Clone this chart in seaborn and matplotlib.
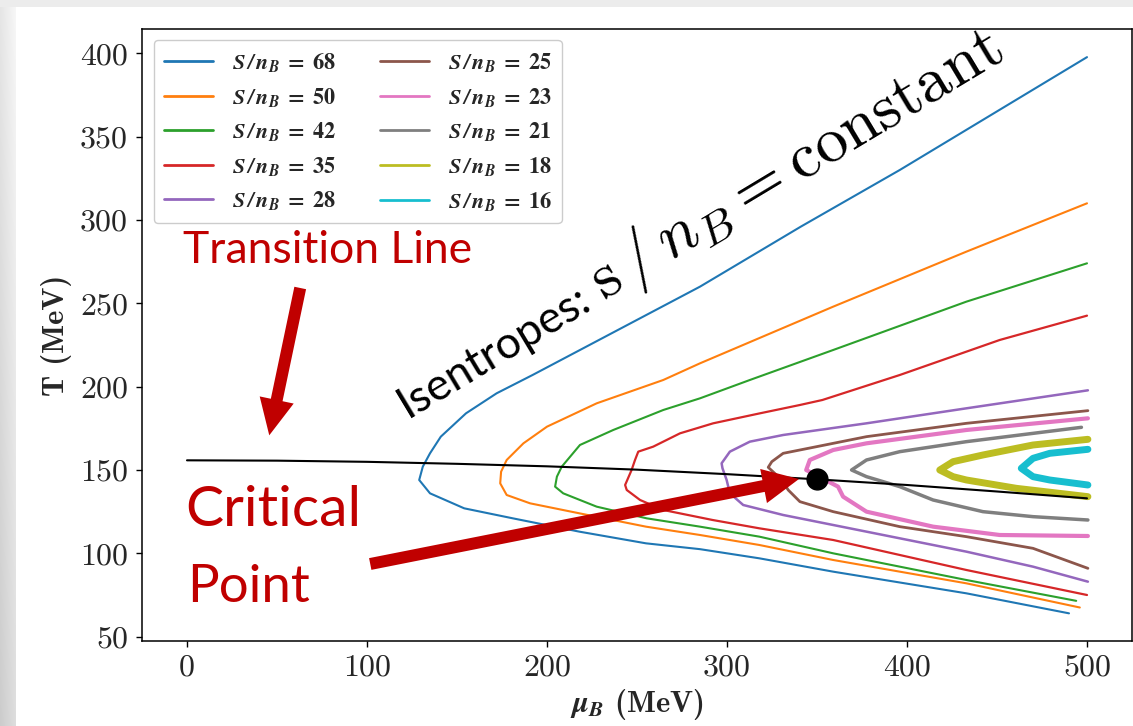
import matplotlib
matplotlib.use("Agg")
import numpy as np
import matplotlib.pyplot as plt
from matplotlib.font_manager import FontProperties
from matplotlib.lines import Line2D
import seaborn as sns

# ---------------------------------------------------------------------------
# Isentropes in the (mu_B, T) plane, each listed from the low-T end of the
# lower branch, through the turning point, to the end of the upper branch.
# ---------------------------------------------------------------------------
entropy_per_baryon = [68, 50, 42, 35, 28, 25, 23, 21, 18, 16]

mu_68 = [490, 433, 359, 318, 285, 255, 218, 181, 154, 135, 129, 131, 135, 141, 155, 172, 192, 285, 341, 396, 500]
T_68 = [64, 76, 89, 97, 102.5, 106, 113, 121, 127, 136, 144, 152, 160, 170, 184, 196, 207, 260, 296, 330, 397.7]

mu_50 = [496, 433, 359, 318, 285, 255, 218, 190.6, 177.6, 174, 174.5, 177.6, 186.9, 200, 227.6, 264.6, 285, 359, 433, 500]
T_50 = [67.5, 82, 96, 105, 111, 116, 124, 130, 135, 142, 149, 156, 166, 176, 190, 204, 214, 248, 281, 310]

mu_42 = [494, 433, 359, 318, 285, 255.4, 227.6, 209, 204.5, 205.5, 208.2, 218.3, 236.8, 264.6, 285, 312.7, 359, 433, 500]
T_42 = [71.5, 84, 100, 110, 116, 121, 128, 136, 140, 146, 152, 165, 174, 186, 193, 204, 222, 251, 274]

mu_35 = [500, 433, 359, 318, 292, 264.6, 251.7, 244.3, 243.4, 247, 248.9, 250.7, 259, 273.9, 292.3, 318.3, 340.5, 353, 396, 451.5, 500]
T_35 = [75, 90, 108, 115, 120, 126, 132, 138, 141, 150, 156, 161, 164, 172, 178, 184, 189, 192, 207, 228, 242.6]

mu_28 = [500.5, 470, 433, 377.5, 331.2, 309, 301.6, 299.8, 297.5, 297, 301.6, 312.7, 331.2, 377.5, 433, 500.5]
T_28 = [83, 92, 101, 113, 123, 129, 136, 144, 151, 154, 161, 167, 171, 178, 187, 197.8]

mu_25 = [500.5, 470, 433, 396, 359, 340.5, 334, 331, 327.5, 322.9, 324.9, 331.2, 349.8, 377.5, 433, 500.5]
T_25 = [91, 103, 110, 116, 125, 131, 138, 143, 147, 151.6, 155, 160, 164, 170, 178, 185.6]

mu_23 = [500.5, 451.5, 414.5, 377.5, 364.5, 361.7, 344, 346, 359, 377.5, 433, 500.5]
T_23 = [110.4, 111, 116, 125, 134, 140, 150, 156, 162, 166, 174, 181]

mu_21 = [500.5, 470, 442.2, 414.5, 396, 377.5, 369.2, 377.5, 396, 433, 496.9]
T_21 = [120, 122, 125, 132, 140, 146, 150, 156, 161, 167, 175.6]

mu_18 = [500.5, 460.8, 433, 425.6, 418.2, 425.6, 442.2, 470, 500.5]
T_18 = [134, 139, 144, 146, 150, 155, 159, 165, 168.4]

mu_16 = [500.5, 479.3, 470, 463.5, 470, 479.3, 500.5]
T_16 = [141, 144, 146, 151, 157, 160, 162.4]

# Chiral transition line and critical end point
mu_transition = [0, 50, 100, 150, 200, 250, 300, 350, 400, 450, 500]
T_transition = [155.8, 155.6, 154.9, 153.7, 152.2, 150.2, 147.5, 144.4, 141.0, 137.1, 133.0]
mu_critical = [350]
T_critical = [144.4]

x_ticks = [0, 100, 200, 300, 400, 500]
y_ticks = [50, 100, 150, 200, 250, 300, 350, 400]

isentropes = [(mu_68, T_68), (mu_50, T_50), (mu_42, T_42), (mu_35, T_35),
              (mu_28, T_28), (mu_25, T_25), (mu_23, T_23), (mu_21, T_21),
              (mu_18, T_18), (mu_16, T_16)]

# ---------------------------------------------------------------------------
sns.set_theme(style="ticks")
plt.rcParams["font.family"] = ["DejaVu Sans"]
plt.rcParams["axes.edgecolor"] = "black"
plt.rcParams["axes.linewidth"] = 1.1

W, H = 1133, 726
fig = plt.figure(figsize=(W / 100, H / 100), dpi=100, facecolor="white")

# slide backdrop: soft grey edge on the left and a thin band on top
bg = fig.add_axes([0, 0, 1, 1], zorder=-10)
bg.set_xlim(0, W)
bg.set_ylim(0, H)
bg.axis("off")
gx = np.linspace(0, 1, 32)[None, :]
gy = np.linspace(0, 1, 200)[:, None]
shade = 0.80 + 0.07 * gx + 0.10 * gy
bg.imshow(np.dstack([shade] * 3), extent=[0, 16, 0, H], origin="lower", aspect="auto")
bg.add_patch(plt.Rectangle((0, H - 7), W, 7, color="#ececec", lw=0))

ax = fig.add_axes([142 / W, (H - 640.5) / H, (1132 - 142) / W, (640.5 - 29.3) / H])
ax.set_facecolor("white")

palette = sns.color_palette("tab10", 10)
widths = [1.5, 1.5, 1.5, 1.6, 1.8, 2.0, 3.0, 2.5, 5.0, 5.0]

for (mu, T), c, lw in zip(isentropes, palette, widths):
    sns.lineplot(x=mu, y=T, sort=False, estimator=None, color=c, lw=lw, ax=ax)

sns.lineplot(x=mu_transition, y=T_transition, sort=False, estimator=None,
             color="black", lw=1.5, ax=ax, zorder=5)
ax.plot(mu_critical, T_critical, "o", color="black", ms=15, zorder=7)

ax.set_xlim(-25, 525)
ax.set_ylim(47.7, 414.4)
ax.set_xticks(x_ticks)
ax.set_yticks(y_ticks)
ax.set_xticklabels([str(v) for v in x_ticks], fontfamily="cmr10", fontsize=23)
ax.set_yticklabels([str(v) for v in y_ticks], fontfamily="cmr10", fontsize=23)
ax.tick_params(axis="both", length=4, width=1.0, color="black", pad=6)

ax.set_ylabel("T (MeV)", fontfamily="cmb10", fontsize=22, labelpad=6)
ax.set_xlabel(r"$\mathbfit{\mu}_{\mathbfit{B}}$ (MeV)", fontfamily="cmb10",
              math_fontfamily="stix", fontsize=22, labelpad=4)

# legend
handles = [Line2D([], [], color=c, lw=2) for c in palette]
labels = [r"$\mathbfit{S\,/\,n_B}\;\mathbf{=}\;\mathbf{" + str(s) + "}$"
          for s in entropy_per_baryon]
leg = ax.legend(handles, labels, ncol=2, loc="upper left",
                bbox_to_anchor=((154 - 142) / 990, (640.5 - 40) / 611.2),
                borderaxespad=0, prop=FontProperties(size=16, math_fontfamily="stix"),
                labelspacing=0.52, handlelength=2.2, handletextpad=0.85,
                columnspacing=2.0, borderpad=0.45, frameon=True, fancybox=True,
                framealpha=1.0, edgecolor="#cccccc")
leg.set_zorder(10)

# annotations
red = "#c00000"
ax.text(-2.1, 273.9, "Transition Line", color=red, fontfamily="Lato",
        fontsize=32, ha="left", va="baseline", zorder=9)
ax.text(-0.9, 116.4, "Critical", color=red, fontfamily="Lato",
        fontsize=41, ha="left", va="baseline", zorder=9)
ax.text(0.2, 70.8, "Point", color=red, fontfamily="Lato",
        fontsize=38, ha="left", va="baseline", zorder=9)

# rotated label: plain word followed by the equation, sharing one baseline
angle = 31.0
word_xy = (122.9, 181.2)
word = ax.text(*word_xy, "Isentropes:", rotation=angle, rotation_mode="anchor",
               ha="left", va="baseline", fontfamily="Lato", fontsize=32,
               color="black", zorder=9)
renderer = fig.canvas.get_renderer()
probe = fig.text(0, 0, "Isentropes: ", fontfamily="Lato", fontsize=32)
advance = probe.get_window_extent(renderer).width
probe.remove()
x0, y0 = ax.transData.transform(word_xy)
th = np.deg2rad(angle)
eq_xy = ax.transData.inverted().transform((x0 + advance * np.cos(th),
                                           y0 + advance * np.sin(th)))
ax.text(*eq_xy, r"$\mathrm{s}\,/\,n_B = \mathrm{constant}$", rotation=angle,
        rotation_mode="anchor", ha="left", va="baseline", math_fontfamily="cm",
        fontsize=47, color="black", zorder=9)

arrow_style = "simple,head_length=26,head_width=25,tail_width=8.6"
ax.annotate("", xy=(45.7, 170.8), xytext=(62.9, 259.2),
            arrowprops=dict(arrowstyle=arrow_style, color=red, lw=0,
                            shrinkA=0, shrinkB=0, mutation_scale=1), zorder=8)
ax.annotate("", xy=(340, 144.6), xytext=(101.8, 93.6),
            arrowprops=dict(arrowstyle=arrow_style, color=red, lw=0,
                            shrinkA=0, shrinkB=0, mutation_scale=1), zorder=8)

fig.savefig("out.png", dpi=100, facecolor="white")
